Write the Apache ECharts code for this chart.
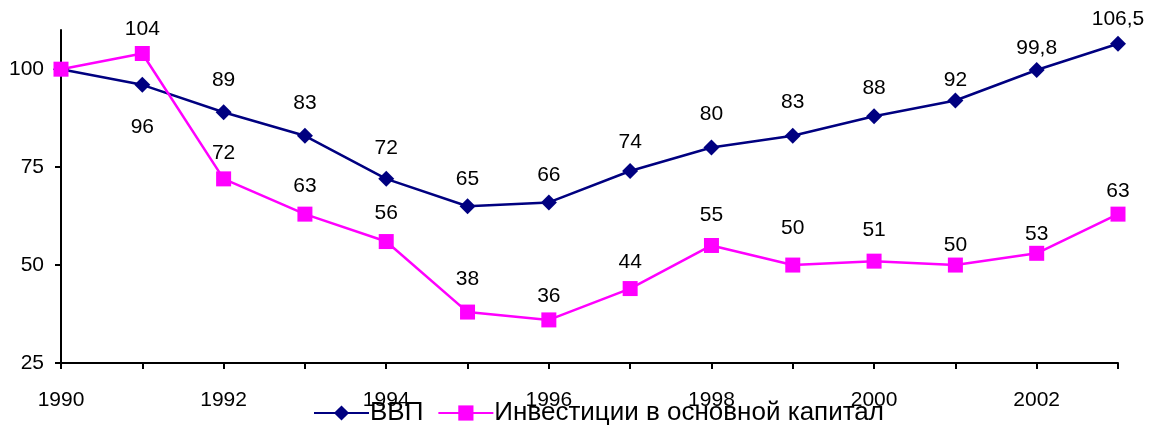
<!DOCTYPE html>
<html>
<head>
<meta charset="utf-8">
<script src="https://cdn.jsdelivr.net/npm/echarts@6/dist/echarts.min.js"></script>
<style>
  html, body { margin: 0; padding: 0; background: #fff; }
  #chart { width: 1152px; height: 425px; }
</style>
</head>
<body>
<div id="chart"></div>
<script>
const years = ['1990', '1991', '1992', '1993', '1994', '1995', '1996', '1997',
    '1998', '1999', '2000', '2001', '2002', '2003'];
const gdp = [100, 96, 89, 83, 72, 65, 66, 74, 80, 83, 88, 92, 99.8, 106.5];
const investment = [100, 104, 72, 63, 56, 38, 36, 44, 55, 50, 51, 50, 53, 63];
const yTicks = [25, 50, 75, 100];

// label gaps above the point (Excel placed them unevenly)
const gdpGap = [0, 24, 14, 14, 12, 9, 9, 10, 15, 15, 9, 2, 3, 6];
const invGap = [0, 6, 8, 10, 10, 15, 6, 8, 12, 19, 13, 2, 1, 5];

function fmt(v) {
    return String(v).replace('.', ',');
}

function buildData(values, gaps, belowIdx) {
    let out = [];
    for (let i = 0; i < values.length; i++) {
        let item = { value: values[i], label: { distance: gaps[i] } };
        if (i === 0) item.label.show = false;
        if (belowIdx.indexOf(i) >= 0) item.label.position = 'bottom';
        out.push(item);
    }
    return out;
}

const font = "'Liberation Sans', Arial, sans-serif";
const chart = echarts.init(document.getElementById('chart'));
chart.setOption({
    animation: false,
    textStyle: { fontFamily: font },
    grid: { left: 61, right: 34, top: 30, bottom: 62 },
    legend: {
        bottom: -1,
        left: 313,
        padding: 0,
        itemWidth: 55,
        itemHeight: 19,
        itemGap: 14,
        textStyle: { fontSize: 26, color: '#000', fontFamily: font, padding: [0, 0, 0, -4] },
        data: ['ВВП', 'Инвестиции в основной капитал']
    },
    xAxis: {
        type: 'category',
        data: years,
        boundaryGap: false,
        axisLine: { lineStyle: { color: '#000', width: 2 } },
        axisTick: { show: true, interval: 0, length: 6, lineStyle: { color: '#000', width: 2 } },
        axisLabel: { interval: 1, fontSize: 21, color: '#000', margin: 27 }
    },
    yAxis: {
        type: 'value',
        min: 25,
        max: 110,
        splitLine: { show: false },
        axisLine: { show: true, lineStyle: { color: '#000', width: 2 } },
        axisTick: { show: true, length: 6, customValues: yTicks, lineStyle: { color: '#000', width: 2 } },
        axisLabel: { fontSize: 21, color: '#000', margin: 17, customValues: yTicks }
    },
    series: [
        {
            name: 'ВВП',
            type: 'line',
            data: buildData(gdp, gdpGap, [1]),
            symbol: 'diamond',
            symbolSize: 16,
            lineStyle: { color: '#000080', width: 2.5 },
            itemStyle: { color: '#000080' },
            label: {
                show: true,
                position: 'top',
                fontSize: 21,
                color: '#000',
                formatter: function (p) { return fmt(p.value); }
            }
        },
        {
            name: 'Инвестиции в основной капитал',
            type: 'line',
            data: buildData(investment, invGap, []),
            symbol: 'rect',
            symbolSize: 15,
            lineStyle: { color: '#ff00ff', width: 2.5 },
            itemStyle: { color: '#ff00ff' },
            label: {
                show: true,
                position: 'top',
                fontSize: 21,
                color: '#000',
                formatter: function (p) { return fmt(p.value); }
            }
        }
    ]
});
</script>
</body>
</html>
